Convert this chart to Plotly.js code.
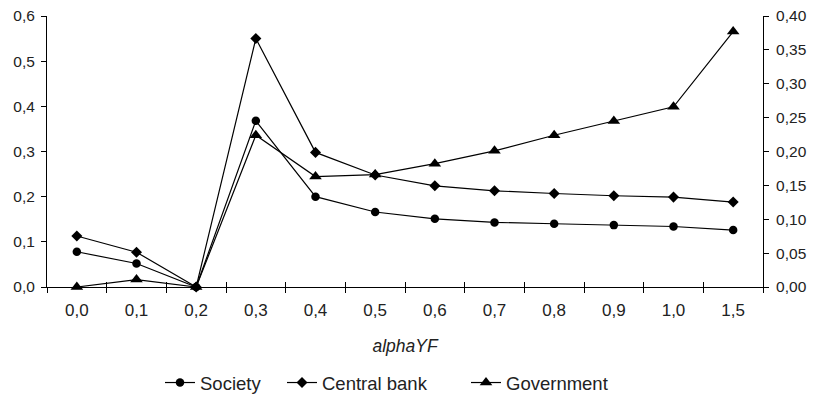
<!DOCTYPE html>
<html>
<head>
<meta charset="utf-8">
<script src="https://cdn.plot.ly/plotly-3.0.1.min.js"></script>
<style>html,body{margin:0;padding:0;background:#fff;}#chart{width:821px;height:401px;}</style>
</head>
<body>
<div id="chart"></div>
<script>
const categories = ['0,0','0,1','0,2','0,3','0,4','0,5','0,6','0,7','0,8','0,9','1,0','1,5'];
const society = [0.078, 0.052, 0.0, 0.368, 0.200, 0.166, 0.151, 0.143, 0.140, 0.137, 0.134, 0.126];
const centralBank = [0.113, 0.077, 0.0, 0.550, 0.298, 0.248, 0.224, 0.213, 0.207, 0.202, 0.199, 0.188];
const government = [0.0, 0.011, 0.0, 0.224, 0.163, 0.166, 0.182, 0.201, 0.224, 0.245, 0.266, 0.377];

const FONT = 'Liberation Sans, Arial, sans-serif';
const TXT = '#222';
const line = {color: '#000', width: 1.2};

const traces = [
  {x: categories, y: society, name: 'Society', type: 'scatter', mode: 'lines+markers', legend: 'legend',
   line: line, marker: {symbol: 'circle', size: 8.5, color: '#000'}, cliponaxis: false},
  {x: categories, y: centralBank, name: 'Central bank', type: 'scatter', mode: 'lines+markers', legend: 'legend2',
   line: line, marker: {symbol: 'diamond', size: 8.5, color: '#000'}, cliponaxis: false},
  {x: categories, y: government, name: 'Government', type: 'scatter', mode: 'lines+markers', legend: 'legend3',
   yaxis: 'y2', line: line, marker: {symbol: 'triangle-up', size: 11, color: '#000'}, cliponaxis: false},
  // hidden helper so the overlay category axis knows the categories (for crossing tick marks)
  {x: categories, y: society, xaxis: 'x2', type: 'scatter', mode: 'none', showlegend: false, hoverinfo: 'skip'}
];

function legendAt(px) {
  return {orientation: 'h', x: px / 821, xanchor: 'left', xref: 'container',
          y: (401 - 383) / 401, yanchor: 'middle', yref: 'container',
          font: {family: FONT, size: 18.5, color: TXT}, itemwidth: 30, bgcolor: 'rgba(0,0,0,0)'};
}

const layout = {
  width: 821, height: 401,
  margin: {l: 47, r: 58, t: 16, b: 114},
  paper_bgcolor: '#fff', plot_bgcolor: '#fff',
  separators: ',.',
  font: {family: FONT, size: 15, color: TXT},
  showlegend: true,
  legend: legendAt(160),
  legend2: legendAt(282),
  legend3: legendAt(466),
  xaxis: {type: 'category', tickson: 'boundaries', ticks: 'outside', ticklen: 5, tickcolor: '#000',
          showline: true, linecolor: '#000', linewidth: 1, showgrid: false, zeroline: false,
          range: [-0.5, 11.5], tickfont: {size: 17, color: TXT}, ticklabelstandoff: 8,
          title: {text: '<i>alphaYF</i>', font: {family: FONT, size: 17.5, color: TXT}, standoff: 20}},
  xaxis2: {type: 'category', overlaying: 'x', side: 'bottom', tickson: 'boundaries', ticks: 'inside',
           ticklen: 5, tickcolor: '#000', showticklabels: false, showline: false, showgrid: false,
           zeroline: false, range: [-0.5, 11.5]},
  yaxis: {range: [0, 0.6], dtick: 0.1, tickformat: '.1f', ticks: 'outside', ticklen: 5, tickcolor: '#000',
          showline: true, linecolor: '#000', linewidth: 1, showgrid: false, zeroline: false,
          tickfont: {size: 15.5, color: TXT}, ticklabelstandoff: 3},
  yaxis2: {range: [0, 0.4], dtick: 0.05, tickformat: '.2f', overlaying: 'y', side: 'right',
           ticks: 'outside', ticklen: 5, tickcolor: '#000', showline: true, linecolor: '#000', linewidth: 1,
           showgrid: false, zeroline: false, tickfont: {size: 15.5, color: TXT}, ticklabelstandoff: 4},
  yaxis3: {range: [0, 0.6], dtick: 0.1, overlaying: 'y', side: 'left', ticks: 'inside', ticklen: 5,
           tickcolor: '#000', showticklabels: false, showline: false, showgrid: false, zeroline: false},
  yaxis4: {range: [0, 0.4], dtick: 0.05, overlaying: 'y', side: 'right', ticks: 'inside', ticklen: 5,
           tickcolor: '#000', showticklabels: false, showline: false, showgrid: false, zeroline: false}
};

Plotly.newPlot('chart', traces, layout, {displayModeBar: false, staticPlot: true});
</script>
</body>
</html>
